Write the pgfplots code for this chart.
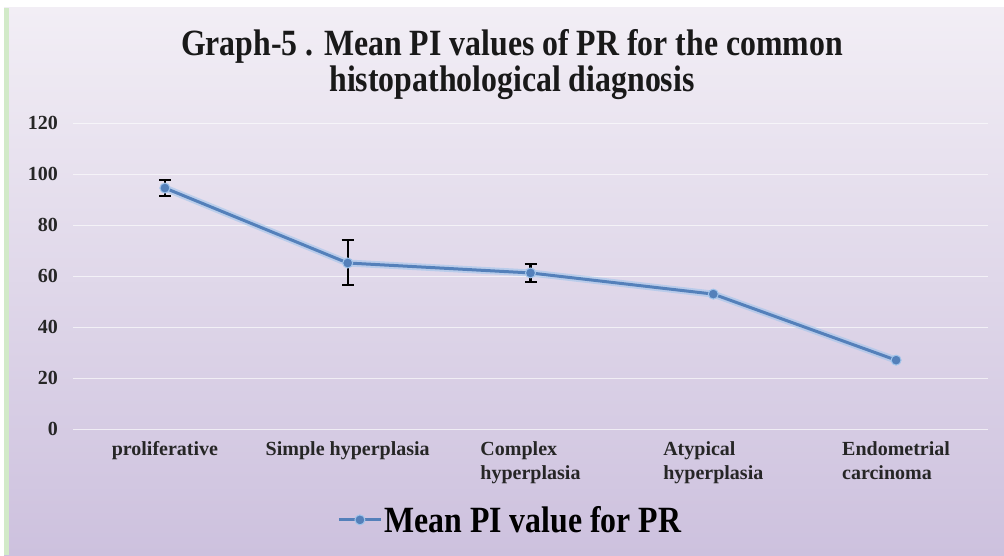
\documentclass[border=0pt]{standalone}
\usepackage{pgfplots}
\pgfplotsset{compat=1.18}
\usepackage{graphicx}
\usepackage{fontspec}
\setmainfont{Liberation Serif}
\definecolor{bgtop}{RGB}{242,238,245}
\definecolor{bgbot}{RGB}{205,193,222}
\definecolor{lineblue}{RGB}{84,128,186}
\definecolor{glow}{RGB}{160,196,235}
\definecolor{greenedge}{RGB}{210,234,200}
\begin{document}
\begin{tikzpicture}
\fill[white] (0pt,0pt) rectangle (1004pt,555pt);
\shade[top color=bgtop, bottom color=bgbot] (4pt,0pt) rectangle (1004pt,547pt);
\fill[greenedge] (4pt,0pt) rectangle (9pt,547pt);
\node[align=center, font=\bfseries\fontsize{37}{36}\selectfont, text=black!90] at (512pt,490pt)
  {\scalebox{0.86}[1]{Graph-5 . Mean PI values of PR for the common}\\\scalebox{0.86}[1]{histopathological diagnosis}};
\begin{axis}[
  at={(73.5pt,126pt)}, anchor=south west,
  scale only axis, width=914pt, height=306pt,
  xmin=-0.5, xmax=4.5, ymin=0, ymax=120,
  axis line style={draw=none},
  major tick length=0pt,
  ytick={0,20,...,120},
  xtick={0,1,2,3,4},
  xticklabels={proliferative, Simple hyperplasia, {Complex\\hyperplasia}, {Atypical\\hyperplasia}, {Endometrial\\carcinoma}},
  xticklabel style={align=left, font=\bfseries\fontsize{20}{24}\selectfont, yshift=-9pt, text=black!85},
  yticklabel style={font=\bfseries\fontsize{20}{22}\selectfont, xshift=-12pt, text=black!85},
  /pgf/number format/assume math mode=true,
  ymajorgrids,
  grid style={white!80!bgtop, line width=1pt, opacity=0.7},
  clip=false,
  legend style={at={(0.478,-0.297)}, anchor=center, draw=none, fill=none,
    font=\bfseries\fontsize{37}{40}\selectfont, legend cell align=left},
  legend image code/.code={\draw[mark repeat=2, mark phase=2, #1] plot coordinates {(0pt,0pt) (21pt,0pt) (42pt,0pt)};},
]
\addplot[glow, line width=7pt, opacity=0.6, forget plot] coordinates {(0,94.5) (1,65.1) (2,61.2) (3,52.9) (4,27)};
\addplot[lineblue, line width=3pt, mark=*, mark size=5pt, mark options={fill=lineblue, draw=glow, line width=1pt}] coordinates {(0,94.5) (1,65.1) (2,61.2) (3,52.9) (4,27)};
\addlegendentry{\scalebox{0.86}[1]{Mean PI value for PR}}
\addplot[draw=none, mark=none, forget plot,
  error bars/.cd, y dir=both, y explicit,
  error bar style={black, line width=2.2pt},
  error mark options={black, line width=2.2pt, mark size=6pt, rotate=90}]
  coordinates {(0,94.5) +- (0,3.2) (1,65.1) += (0,9.0) -= (0,8.6) (2,61.2) +- (0,3.4)};
\end{axis}
\end{tikzpicture}
\end{document}
